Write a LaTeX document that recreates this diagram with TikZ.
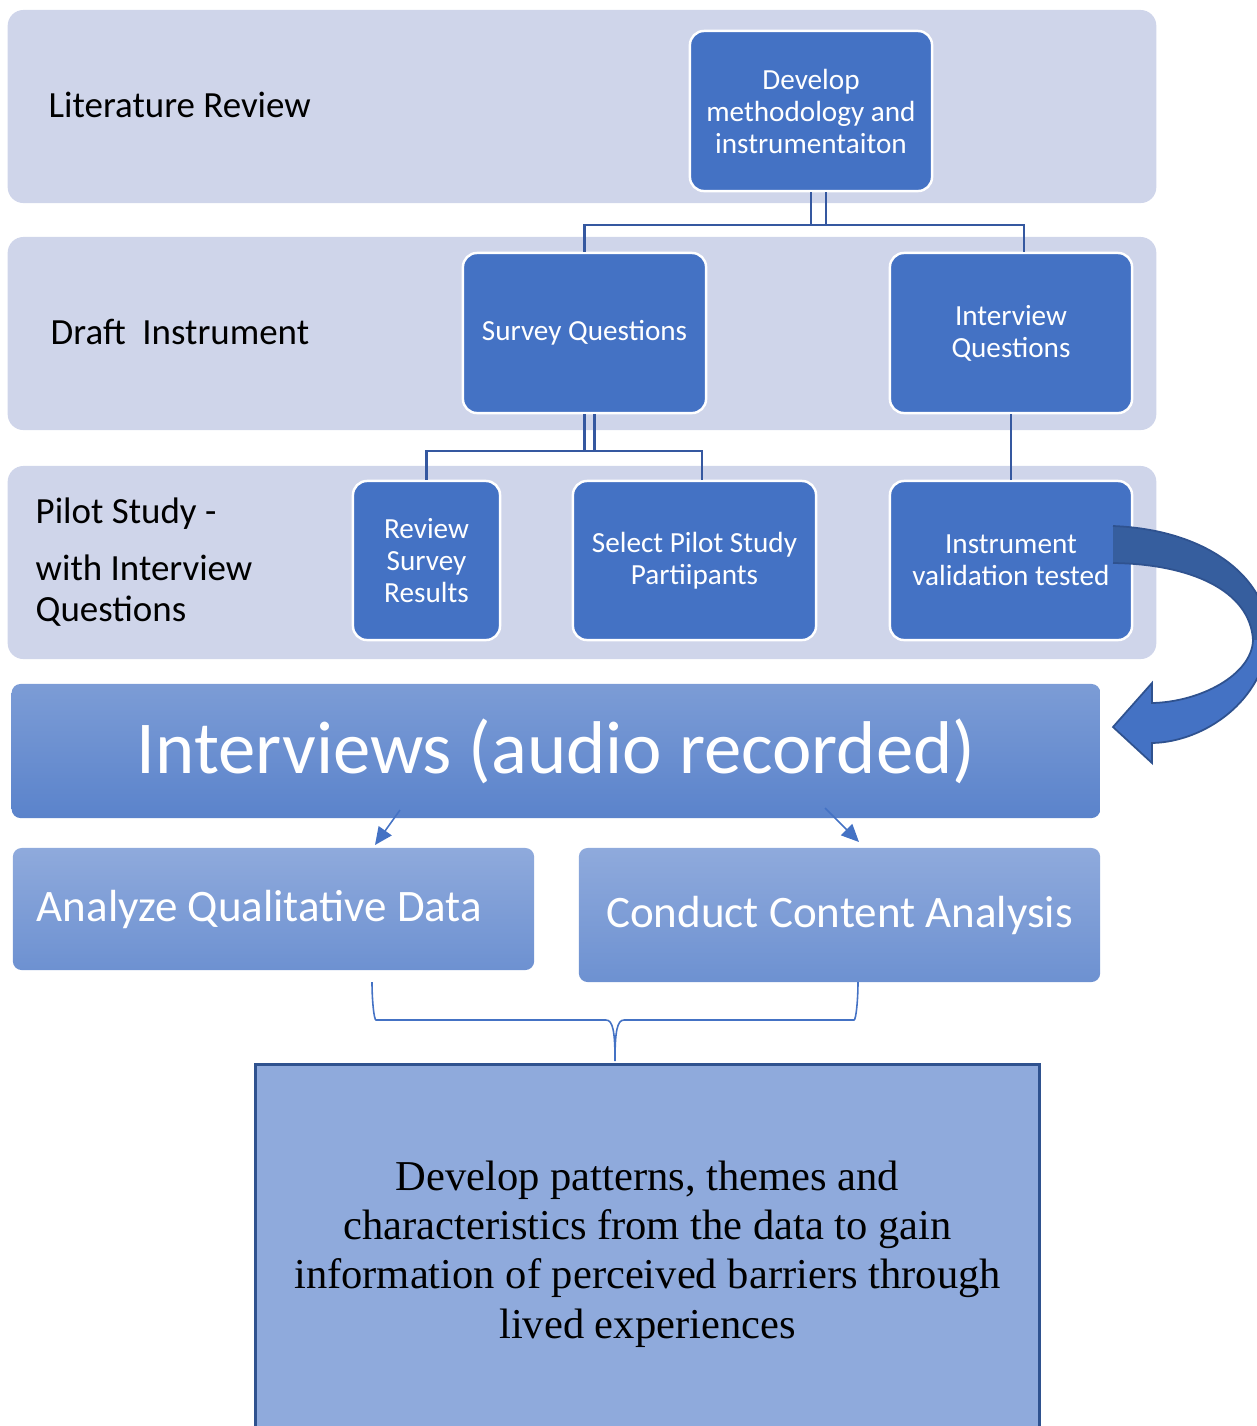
\documentclass[tikz,border=0pt]{standalone}
\usepackage{fontspec}
\setmainfont{Carlito}
\newfontfamily\timesfont{Liberation Serif}
\usetikzlibrary{arrows.meta, positioning}
\definecolor{bandgrey}{HTML}{CFD5EA}
\definecolor{boxblue}{HTML}{4472C4}
\definecolor{linkblue}{HTML}{3558A0}
\definecolor{darkblue}{HTML}{2F528F}
\definecolor{paleblue}{HTML}{8FAADC}
\definecolor{shadeblue}{HTML}{365E9E}

\begin{document}
\begin{tikzpicture} [x=0.01cm, y=-0.01cm, font=\fontsize{8.3}{9.1}\selectfont,
    band/.style={fill=bandgrey, rounded corners=4.5pt, minimum width=11.48cm,
        minimum height=1.93cm, inner sep=0pt},
    stage/.style={fill=boxblue, draw=white, line width=0.7pt, rounded corners=4pt,
        text=white, align=center, inner sep=1pt},
    rowlabel/.style={anchor=west, inner sep=0pt, align=left,
        font=\fontsize{10.5}{11.7}\selectfont},
    link/.style={draw=linkblue, line width=0.6pt},
    banner/.style={top color=boxblue!70!white, bottom color=boxblue!88!white,
        rounded corners=2.5pt, text=white, inner sep=0pt,
        font=\fontsize{21.25}{25}\selectfont},
    result/.style={top color=paleblue, bottom color=boxblue!78!white,
        rounded corners=2.5pt, text=white, inner sep=0pt,
        font=\fontsize{12.8}{15}\selectfont},
    smallarrow/.style={draw=boxblue, line width=0.45pt,
        -{Triangle[length=5pt, width=4.5pt]}},
    final/.style={fill=paleblue, draw=darkblue, line width=0.9pt, align=center,
        minimum width=7.83cm, minimum height=3.78cm,
        font=\timesfont\fontsize{12.1}{14}\selectfont}
]
    \useasboundingbox (0,0) rectangle (1257,1426);

    % three grey rows
    \node (band1) [band] at (582,106.5) {};
    \node (band2) [band] at (582,333.5) {};
    \node (band3) [band] at (582,562.5) {};

    \node (litlabel) [rowlabel] at (48,105) {Literature Review};
    \node (draftlabel) [rowlabel] at (50,332) {Draft\ \ Instrument};
    \node (pilotlabel) [rowlabel] at (35,562)
        {Pilot Study -\\[4.6pt] with Interview\\ Questions};

    % boxes of the rows
    \node (dev) [stage, minimum width=2.42cm, minimum height=1.6cm] at (811,111)
        {Develop\\ methodology and\\ instrumentaiton};
    \node (survey) [stage, minimum width=2.43cm, minimum height=1.6cm] at (584.5,333)
        {Survey Questions};
    \node (interv) [stage, minimum width=2.42cm, minimum height=1.6cm] at (1011,333)
        {Interview\\ Questions};
    \node (review) [stage, minimum width=1.47cm, minimum height=1.59cm] at (426.5,560.5)
        {Review\\ Survey\\ Results};
    \node (select) [stage, minimum width=2.43cm, minimum height=1.59cm] at (694.5,560.5)
        {Select Pilot Study\\ Partiipants};
    \node (instr) [stage, minimum width=2.42cm, minimum height=1.59cm] at (1011,560.5)
        {Instrument\\ validation tested};

    % tree lines
    \draw [link] (dev.south) -- ++(0,33) -| ([xshift=0.13cm]interv.north);
    \draw [link] ([xshift=0.15cm]dev.south) -- ++(0,33) -| (survey.north);
    \draw [link] (survey.south) -- ++(0,37) -| ([xshift=0.075cm]select.north);
    \draw [link] ([xshift=0.1cm]survey.south) -- ++(0,37) -| (review.north);
    \draw [link] (interv) -- (instr);

    % curved arrow
    \begin{scope}
        \clip (1100,500) rectangle (1257,640);
        \fill [shadeblue] (1113,526) .. controls (1215,530) and (1272,585) .. (1268,640)
            -- (1253,640) .. controls (1250,590) and (1190,564) .. (1113,563) -- cycle;
    \end{scope}
    \fill [boxblue] (1268,640) .. controls (1264,700) and (1205,742) .. (1152,743)
        -- (1152,763) -- (1113,727) -- (1152,683) -- (1152,703)
        .. controls (1200,702) and (1252,675) .. (1253,640) -- cycle;
    \draw [darkblue, line width=0.5pt] (1113,526) .. controls (1215,530) and (1272,585) .. (1268,640)
        .. controls (1264,700) and (1205,742) .. (1152,743)
        -- (1152,763) -- (1113,727) -- (1152,683) -- (1152,703)
        .. controls (1200,702) and (1252,675) .. (1253,640)
        .. controls (1250,590) and (1190,564) .. (1113,563);

    % interviews and analysis
    \node (interviews) [banner, minimum width=10.88cm, minimum height=1.34cm] at (556,751)
        {Interviews (audio recorded)};
    \node (analyze) [result, minimum width=5.21cm, minimum height=1.22cm] at (273.5,909) {};
    \node (analyzetext) [anchor=west, inner sep=0pt, text=white,
        font=\fontsize{12.8}{15}\selectfont] at ([xshift=0.24cm]analyze.west)
        {Analyze Qualitative Data};
    \node (conduct) [result, minimum width=5.21cm, minimum height=1.34cm] at (839.5,915)
        {Conduct Content Analysis};

    \coordinate (leftfrom) at (400,810);
    \coordinate (leftto) at (375,845);
    \coordinate (rightfrom) at (825,808);
    \coordinate (rightto) at (859,842);
    \draw [smallarrow] (leftfrom) -- (leftto);
    \draw [smallarrow] (rightfrom) -- (rightto);

    % brace to the last box
    \coordinate (braceleft) at (372,982);
    \coordinate (bracetip) at (615,1061);
    \coordinate (braceright) at (858,982);
    \draw [boxblue, line width=0.45pt] (braceleft) .. controls ++(0,18) and ++(-2,0) .. ++(4,38)
        -- (606,1020) .. controls (613,1020) and (615,1032) .. (bracetip)
        .. controls (615,1032) and (617,1020) .. (624,1020)
        -- (854,1020) .. controls ++(2,0) and ++(0,18) .. (braceright);

    \node (patterns) [final] at (647.5,1254)
        {Develop patterns, themes and\\ characteristics from the data to gain\\
         information of perceived barriers through\\ lived experiences};
\end{tikzpicture}
\end{document}
